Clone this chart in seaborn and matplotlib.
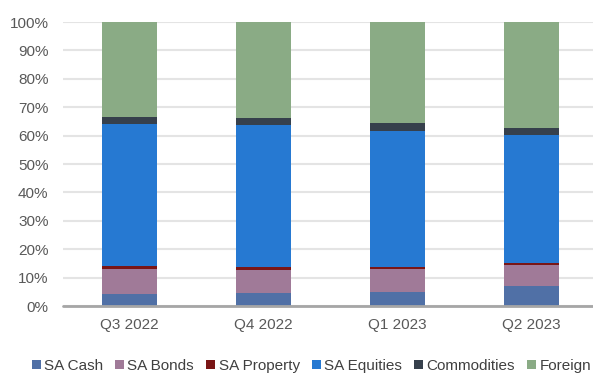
import numpy as np
import seaborn as sns
import matplotlib.pyplot as plt
from matplotlib.ticker import PercentFormatter, MultipleLocator

# Quarterly asset allocation (% of portfolio)
quarters = ["Q3 2022", "Q4 2022", "Q1 2023", "Q2 2023"]
sa_cash = [4.3, 4.6, 5.0, 7.1]
sa_bonds = [8.7, 8.1, 8.0, 7.3]
sa_property = [1.1, 1.0, 0.8, 0.8]
sa_equities = [50.0, 50.0, 47.9, 45.1]
commodities = [2.6, 2.5, 2.8, 2.4]
foreign = [33.3, 33.8, 35.5, 37.3]

series_names = ["SA Cash", "SA Bonds", "SA Property", "SA Equities", "Commodities", "Foreign"]
series_vals = [sa_cash, sa_bonds, sa_property, sa_equities, commodities, foreign]
colors = ["#5070a6", "#a07a98", "#7a1616", "#2679d2", "#36404c", "#8aab85"]

sns.set_theme(style="white")
plt.rcParams["font.family"] = ["Liberation Sans", "DejaVu Sans"]

fig = plt.figure(figsize=(5.93, 3.74), dpi=100)
ax = fig.add_axes([62.5 / 593, 68 / 374, 536 / 593, 284 / 374])

bottom = np.zeros(len(quarters))
for name, vals, col in zip(series_names, series_vals, colors):
    sns.barplot(x=quarters, y=vals, bottom=bottom, color=col, width=0.41,
                errorbar=None, label=name, linewidth=0, saturation=1, ax=ax, zorder=2)
    bottom = bottom + np.array(vals)

ax.set_ylim(0, 100)
ax.set_xlim(-0.5, 3.5)
ax.yaxis.set_major_locator(MultipleLocator(10))
ax.yaxis.set_major_formatter(PercentFormatter(xmax=100, decimals=0))
ax.grid(axis="y", color="#e4e4e4", linewidth=1.5, zorder=0)
ax.set_axisbelow(True)
for s in ax.spines.values():
    s.set_visible(False)
ax.axhline(0, color="#a6a6a6", linewidth=2, zorder=3, clip_on=False)

ax.tick_params(axis="both", length=0, labelsize=11, labelcolor="#595959")
ax.tick_params(axis="y", pad=10)
ax.tick_params(axis="x", pad=9)
ax.set_xlabel("")
ax.set_ylabel("")

handles, labels = ax.get_legend_handles_labels()
if ax.get_legend() is not None:
    ax.get_legend().remove()
fig.legend(handles, labels, loc="center", bbox_to_anchor=(0.525, 0.022), ncol=6,
           frameon=False, fontsize=11, handlelength=0.6, handleheight=0.6,
           handletextpad=0.2, columnspacing=0.8, labelcolor="#404040")

fig.savefig("out.png", dpi=100)
